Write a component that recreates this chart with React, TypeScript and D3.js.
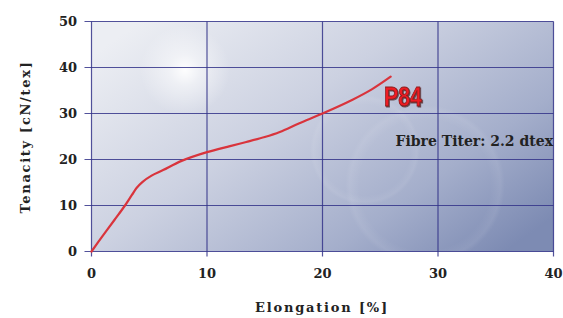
import * as d3 from 'd3';

const elongation = [0, 1, 2, 2.9, 3.5, 3.9, 4.4, 5.2, 6.2, 7.8, 10, 12, 13.4, 15, 16.3, 18, 20, 22.6, 24.3, 25.9];
const tenacity = [0, 3.5, 6.9, 10, 12.3, 13.8, 15.1, 16.5, 17.7, 19.7, 21.6, 22.9, 23.8, 24.9, 26, 27.9, 30, 33, 35.3, 38];
const xTicks = [0, 10, 20, 30, 40];
const yTicks = [0, 10, 20, 30, 40, 50];

const W = 563;
const H = 318;
const margin = { top: 21.5, right: 9.5, bottom: 66.5, left: 91.5 };

export default function App() {
  const x = d3.scaleLinear().domain([0, 40]).range([margin.left, W - margin.right]);
  const y = d3.scaleLinear().domain([0, 50]).range([H - margin.bottom, margin.top]);
  const pts = elongation.map((e, i) => [e, tenacity[i]] as [number, number]);
  const line = d3.line<[number, number]>()
    .x(d => x(d[0]))
    .y(d => y(d[1]))
    .curve(d3.curveCatmullRom.alpha(0.5));

  const gridColor = '#34348a';
  const font = '"DejaVu Serif", serif';

  return (
    <svg width={W} height={H} style={{ position: 'absolute', left: 0, top: 0, background: '#fff' }}>
      <defs>
        <linearGradient id="bg" x1="0" y1="0.15" x2="1" y2="0.85">
          <stop offset="0%" stopColor="#eceef3" />
          <stop offset="40%" stopColor="#ccd1e1" />
          <stop offset="75%" stopColor="#a4aecb" />
          <stop offset="100%" stopColor="#7d8bb3" />
        </linearGradient>
        <radialGradient id="sun">
          <stop offset="0%" stopColor="#ffffff" stopOpacity={0.95} />
          <stop offset="35%" stopColor="#ffffff" stopOpacity={0.5} />
          <stop offset="100%" stopColor="#ffffff" stopOpacity={0} />
        </radialGradient>
        <radialGradient id="ring">
          <stop offset="82%" stopColor="#ffffff" stopOpacity={0} />
          <stop offset="94%" stopColor="#ffffff" stopOpacity={0.07} />
          <stop offset="100%" stopColor="#ffffff" stopOpacity={0} />
        </radialGradient>
      </defs>

      {/* plot background */}
      <rect x={x(0)} y={y(50)} width={x(40) - x(0)} height={y(0) - y(50)} fill="url(#bg)" />
      <circle cx={185} cy={70} r={45} fill="url(#sun)" />
      <circle cx={425} cy={185} r={80} fill="url(#ring)" />
      <circle cx={365} cy={150} r={55} fill="url(#ring)" />

      {/* grid */}
      <g stroke={gridColor} strokeWidth={1.2} strokeOpacity={0.85}>
        {yTicks.map(t => (
          <line key={'h' + t} x1={x(0) - 7} x2={x(40)} y1={y(t)} y2={y(t)} />
        ))}
        {xTicks.map(t => (
          <line key={'v' + t} x1={x(t)} x2={x(t)} y1={y(50)} y2={y(0) + 5} />
        ))}
      </g>

      {/* curve */}
      <path d={line(pts) || ''} fill="none" stroke="#d9343c" strokeWidth={2.2} strokeLinecap="round" />

      {/* tick labels */}
      <g fontFamily={font} fontWeight="bold" fontSize={13} fill="#222">
        {yTicks.map(t => (
          <text key={'yl' + t} x={77} y={y(t) + 4.7} textAnchor="end">{t}</text>
        ))}
        {xTicks.map(t => (
          <text key={'xl' + t} x={x(t)} y={278} textAnchor="middle">{t}</text>
        ))}
      </g>

      {/* axis titles */}
      <text x={322} y={312} textAnchor="middle" fontFamily={font} fontWeight="bold" fontSize={13}
        letterSpacing={1.8} fill="#222">Elongation [%]</text>
      <text transform={`translate(30,137) rotate(-90)`} textAnchor="middle" fontFamily={font}
        fontWeight="bold" fontSize={13} letterSpacing={1.7} fill="#222">Tenacity [cN/tex]</text>

      {/* annotations */}
      <text x={384} y={106} fontFamily='"Liberation Sans", Arial, sans-serif' fontWeight="bold" fontSize={27}
        textLength={38} lengthAdjust="spacingAndGlyphs" fill="#ee1c24" stroke="#8a1c1c" strokeWidth={0.9}
        style={{ filter: 'drop-shadow(1px 1px 0.6px rgba(60,20,20,0.7))' }}>P84</text>
      <text x={553} y={146} textAnchor="end" fontFamily={font} fontWeight="bold" fontSize={14}
        fill="#222">Fibre Titer: 2.2 dtex</text>
    </svg>
  );
}
